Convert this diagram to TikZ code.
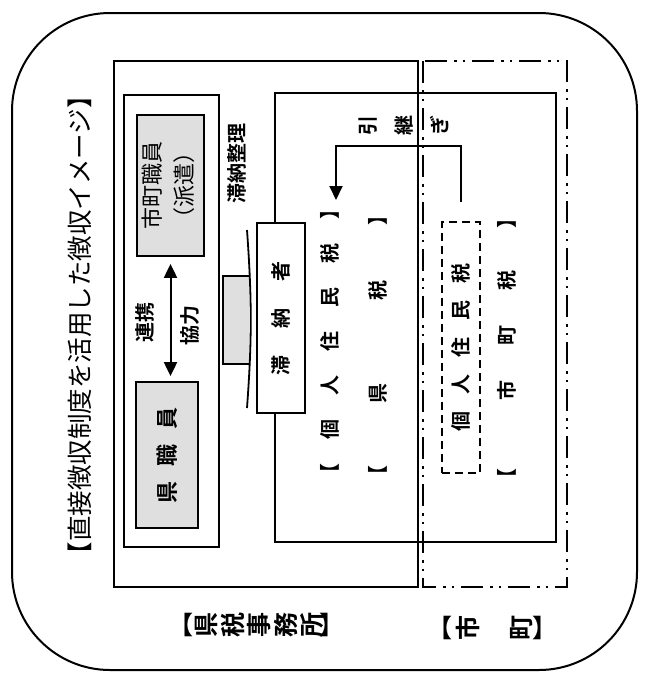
\documentclass[tikz,border=0pt]{standalone}
\usepackage{fontspec}
\setmainfont[BoldFont={Noto Sans CJK JP Bold}]{Noto Sans CJK JP}
\usepackage{tikz}
\usetikzlibrary{arrows.meta}

\tikzset{
  shadebox/.style={draw, line width=1.8pt, fill=gray!25, inner sep=0pt},
  plainbox/.style={draw, line width=1.8pt, fill=white, inner sep=0pt},
  dashbox/.style={draw, line width=1.8pt, dash pattern=on 8pt off 5pt, inner sep=0pt},
  dashdot/.style={line width=2pt, dash pattern=on 22pt off 7pt on 2.5pt off 6pt on 2.5pt off 7pt},
  txt/.style={rotate=90, inner sep=0pt, font=\fontsize{20pt}{24pt}\selectfont\bfseries},
  bigtxt/.style={inner sep=0pt, font=\fontsize{25pt}{28pt}\selectfont\bfseries},
  arr/.style={line width=2pt, -{Triangle[length=14pt,width=13pt]}},
}

\begin{document}
\begin{tikzpicture}[x=1pt, y=-1pt]
  \useasboundingbox (0,0) rectangle (648,680);

  % outer frame
  \draw[line width=2pt, rounded corners=98pt] (12,13) rectangle (637,670);

  % title
  \node[txt, font=\fontsize{25.5pt}{28pt}\selectfont] (title) at (80,325) {【直接徴収制度を活用した徴収イメージ】};

  % areas
  \draw[line width=2.5pt] (114,61) rectangle (418,587);
  \draw[dashdot] (423,61) rectangle (567,587);
  \draw[line width=1.8pt] (275,93) rectangle (556,542);
  \draw[line width=1.8pt] (124,95) rectangle (219,547);

  % staff
  \node[shadebox, minimum width=67pt, minimum height=141pt, font=\fontsize{22pt}{32pt}\selectfont] (shicho) at (170.5,185.5)
    {\rotatebox{90}{\begin{tabular}{@{}c@{}}市町職員\\（派遣）\end{tabular}}};
  \node[shadebox, minimum width=62pt, minimum height=146pt, font=\fontsize{22pt}{24pt}\selectfont\bfseries] (ken) at (167,455)
    {\rotatebox{90}{県\hspace{15pt}職\hspace{15pt}員}};
  \draw[line width=2pt, {Triangle[length=14pt,width=13pt]}-{Triangle[length=14pt,width=13pt]},
    shorten <=7pt, shorten >=5pt] (shicho.south) -- (shicho.south |- ken.north);
  \node[txt] (renkei) at (145,322) {連携};
  \node[txt] (kyoryoku) at (190,325) {協力};
  \node[txt] (seiri) at (237,163) {滞納整理};

  % delinquent taxpayer
  \fill[gray!25] (223,276) rectangle (249,364);
  \draw[line width=1.8pt] (249,276) -- (223,276) -- (223,364) -- (249,364);
  \draw[line width=1.8pt] (247,230) .. controls (252,300) and (252,340) .. (247,408);
  \node[plainbox, minimum width=48pt, minimum height=190pt] (tainousha) at (281,318)
    {\rotatebox{90}{\fontsize{20pt}{24pt}\selectfont\bfseries 滞\hspace{27pt}納\hspace{27pt}者}};

  % taxes
  \node[txt] (kenkojin) at (330,341) {【\hspace{24pt}個\hspace{24pt}人\hspace{24pt}住\hspace{24pt}民\hspace{24pt}税\hspace{24pt}】};
  \node[txt] (kenzei) at (378,345) {【\hspace{62pt}県\hspace{83pt}税\hspace{55pt}】};
  \node[dashbox, minimum width=38pt, minimum height=251pt] (shichokojin) at (461,347.5)
    {\rotatebox{90}{\fontsize{20pt}{24pt}\selectfont\bfseries 個\hspace{17pt}人\hspace{17pt}住\hspace{17pt}民\hspace{17pt}税}};
  \node[txt] (shichozei) at (507,348) {【\hspace{68pt}市\hspace{35pt}町\hspace{35pt}税\hspace{42pt}】};

  % hand over
  \coordinate (hkend) at (336,200);
  \draw[arr, shorten <=19pt] (shichokojin.north) -- ++(0,-75) -| (hkend);
  \foreach \c/\x [count=\i] in {引/368,継/404,ぎ/440}
    \node[txt] (hk\i) at (\x,125) {\c};

  % office labels
  \node[bigtxt] (kzopen) at (181,625) {【};
  \foreach \c [count=\i] in {県,税,事,務,所}
    \node[bigtxt, rotate=90] (kz\i) at (180+26.5*\i,625) {\c};
  \node[bigtxt] (kzclose) at (332,625) {】};

  \node[bigtxt] (scopen) at (440,628) {【};
  \node[bigtxt, rotate=90] (sc1) at (468,628) {市};
  \node[bigtxt, rotate=90] (sc2) at (522,628) {町};
  \node[bigtxt] (scclose) at (545,628) {】};
\end{tikzpicture}
\end{document}
